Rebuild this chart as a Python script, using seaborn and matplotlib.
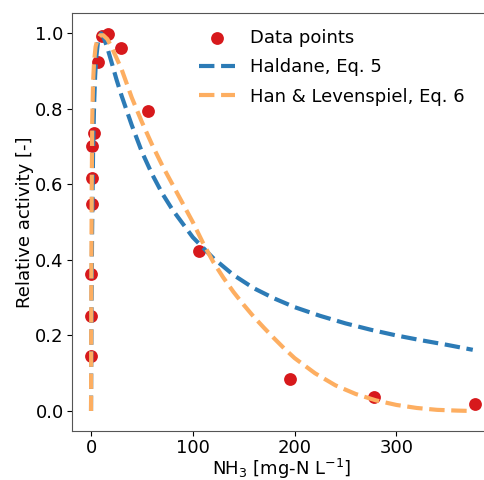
import matplotlib
matplotlib.use("Agg")
import matplotlib.pyplot as plt
import seaborn as sns
import pandas as pd

# Experimental data points
data_x = [0, 0, 0, 0.5, 1.3, 1.3, 3.3, 7.2, 10.5, 16.4, 29.5, 56.3, 106.4, 195.5, 278, 377]
data_y = [0.145, 0.251, 0.364, 0.549, 0.617, 0.702, 0.735, 0.924, 0.993, 0.999,
          0.96, 0.795, 0.425, 0.084, 0.037, 0.018]

# Haldane model curve
hal_x = [0, 0.5, 1, 2, 3, 4, 5, 7, 10, 13, 16, 20, 25, 30, 40, 50, 60, 70, 80, 100,
         120, 140, 160, 180, 200, 225, 250, 275, 300, 325, 350, 375]
hal_y = [0, 0.279, 0.464, 0.686, 0.811, 0.886, 0.933, 0.982, 1.0, 0.985, 0.962, 0.925,
         0.878, 0.835, 0.757, 0.686, 0.627, 0.576, 0.533, 0.46, 0.405, 0.36, 0.325,
         0.298, 0.275, 0.252, 0.232, 0.215, 0.2, 0.187, 0.175, 0.162]

# Han & Levenspiel model curve
hl_x = [0, 0.3, 0.7, 1.2, 2, 3, 4.5, 6.5, 9, 12, 16, 20, 25, 30, 40, 50, 60, 70, 80, 90,
        100, 110, 120, 130, 140, 150, 160, 170, 180, 190, 200, 220, 240, 260, 280, 300,
        320, 340, 360, 375]
hl_y = [0, 0.35, 0.6, 0.77, 0.87, 0.925, 0.965, 0.985, 0.995, 0.995, 0.985, 0.965, 0.935,
        0.905, 0.83, 0.765, 0.705, 0.65, 0.6, 0.55, 0.5, 0.445, 0.395, 0.353, 0.315,
        0.281, 0.249, 0.22, 0.192, 0.165, 0.14, 0.1, 0.068, 0.045, 0.028, 0.016, 0.008,
        0.003, 0.001, 0.0]

x_ticks = [0, 100, 200, 300]
y_ticks = [0.0, 0.2, 0.4, 0.6, 0.8, 1.0]

FS = 13
plt.rcParams['font.family'] = ['DejaVu Sans']
plt.rcParams['font.size'] = FS

W, H = 484, 480
fig = plt.figure(figsize=(W / 100, H / 100), dpi=100)
# axes intentionally extends past the right edge (as in the reference crop)
left_px, right_px, top_px, bottom_px = 72, 492, 13, 431
ax = fig.add_axes([left_px / W, 1 - bottom_px / H, (right_px - left_px) / W,
                   (bottom_px - top_px) / H])

red = '#d7191c'
blue = '#2c7bb6'
orange = '#fdae61'

sns.scatterplot(x=data_x, y=data_y, ax=ax, color=red, s=85, linewidth=0,
                label='Data points', zorder=2)
sns.lineplot(x=hal_x, y=hal_y, ax=ax, color=blue, linestyle='--', lw=3,
             label='Haldane, Eq. 5', zorder=3)
sns.lineplot(x=hl_x, y=hl_y, ax=ax, color=orange, linestyle='--', lw=3,
             label='Han & Levenspiel, Eq. 6', zorder=4)

ax.set_xlim(-18.7, 393.9)
ax.set_ylim(-0.053, 1.054)
ax.set_xticks(x_ticks)
ax.set_yticks(y_ticks)
ax.set_xticklabels([str(t) for t in x_ticks])
ax.set_yticklabels([f'{t:.1f}' for t in y_ticks])
ax.tick_params(labelsize=FS, length=3.5, pad=2.5)
ax.tick_params(axis='x', pad=2)
ax.set_xlabel('NH$_3$ [mg-N L$^{-1}$]', fontsize=FS, labelpad=0)
ax.set_ylabel('Relative activity [-]', fontsize=FS, labelpad=1)
for s in ax.spines.values():
    s.set_color('#555555')

leg = ax.legend(loc='upper left', bbox_to_anchor=(192 / W, 1 - 22 / H),
                bbox_transform=fig.transFigure, frameon=False, fontsize=FS,
                borderaxespad=0, handlelength=2.0, labelspacing=0.62)

fig.savefig('out.png', dpi=100)
